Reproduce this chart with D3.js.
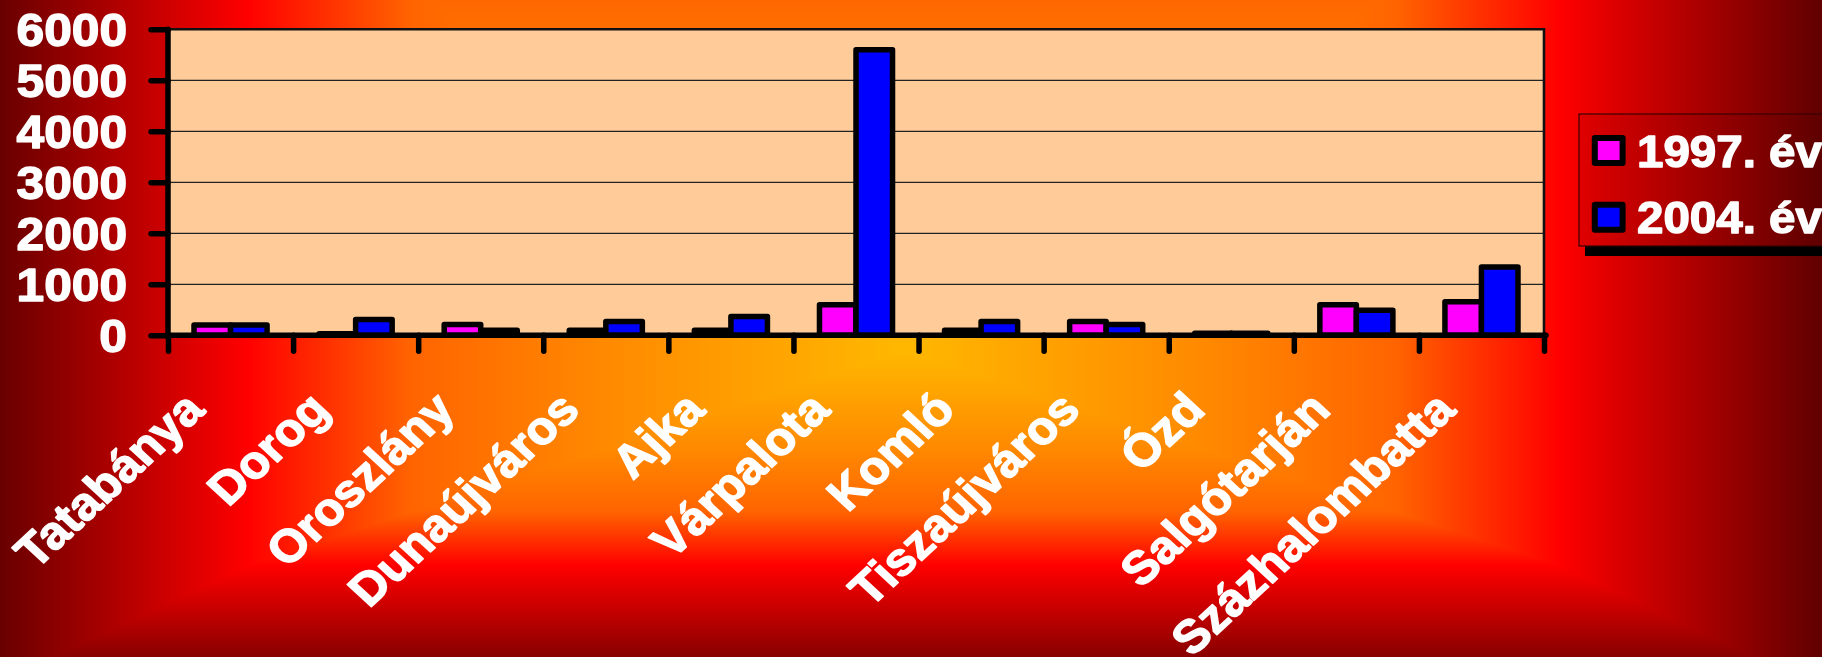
<!DOCTYPE html>
<html><head><meta charset="utf-8">
<script src="https://cdn.jsdelivr.net/npm/d3@7"></script>
<style>
html,body{margin:0;padding:0;overflow:hidden;background:#600000;}
#bg{position:absolute;left:0;top:0;}
#chart{position:absolute;left:0;top:0;}
text{font-family:"Liberation Sans",Arial,sans-serif;font-weight:bold;fill:#fff;stroke:#fff;stroke-width:1.4px;stroke-linejoin:round;}
</style></head><body>
<canvas id="bg" width="1822" height="657"></canvas>
<svg id="chart" width="1822" height="657"></svg>
<script>
const categories = ["Tatabánya","Dorog","Oroszlány","Dunaújváros","Ajka","Várpalota","Komló","Tiszaújváros","Ózd","Salgótarján","Százhalombatta"];
const values1997 = [200, 30, 210, 100, 100, 600, 100, 270, 40, 600, 660];
const values2004 = [200, 310, 100, 270, 370, 5600, 270, 210, 40, 490, 1340];
const seriesNames = ["1997. év", "2004. év"];
const seriesColors = ["#FF00FF", "#0000FF"];
const yTicks = [0, 1000, 2000, 3000, 4000, 5000, 6000];

// ---- background (rectangular "from center" gradient) ----
(function(){
  const cv = document.getElementById("bg"), ctx = cv.getContext("2d");
  const W = 1822, H = 657, img = ctx.createImageData(W, H);
  const cx = 903, cy = 350, ax = 656, ayUp = 482, ayDown = 215;
  const stops = [[0,[255,184,0]],[0.45,[255,138,0]],[0.75,[255,100,0]],[1.0,[255,0,0]],[1.4,[96,0,0]]];
  function col(t){
    if (t <= 0) return stops[0][1];
    for (let i=1;i<stops.length;i++){
      if (t <= stops[i][0]){
        const a = stops[i-1], b = stops[i], f = (t-a[0])/(b[0]-a[0]);
        return [a[1][0]+(b[1][0]-a[1][0])*f, a[1][1]+(b[1][1]-a[1][1])*f, a[1][2]+(b[1][2]-a[1][2])*f];
      }
    }
    return stops[stops.length-1][1];
  }
  for (let y=0;y<H;y++){
    let ty = (y<cy) ? (cy-y)/ayUp : (y-cy)/ayDown;
    if (y>=cy && ty>1) ty = 1 + (ty-1)*0.7;
    for (let x=0;x<W;x++){
      const tx = Math.abs(x-cx)/ax;
      const c = col(Math.max(tx,ty));
      const k = (y*W+x)*4;
      img.data[k]=c[0]; img.data[k+1]=c[1]; img.data[k+2]=c[2]; img.data[k+3]=255;
    }
  }
  ctx.putImageData(img,0,0);
})();

// ---- chart ----
const svg = d3.select("#chart");
const L = 168, R = 1544, T = 29.3, B = 335.3;
const x = d3.scaleBand().domain(categories).range([L, R]).padding(0);
const xi = d3.scaleLinear().domain([0, categories.length]).range([L, R]);
const y = d3.scaleLinear().domain([0, 6000]).range([B, T]);

svg.append("rect").attr("x", L).attr("y", T).attr("width", R-L).attr("height", B-T).attr("fill", "#FFCC99");

svg.append("g").selectAll("line").data(yTicks.filter(d=>d>0)).join("line")
  .attr("x1", L).attr("x2", R).attr("y1", d=>y(d)).attr("y2", d=>y(d))
  .attr("stroke", "#222").attr("stroke-width", 1.3);

// top and right borders
svg.append("path").attr("d", `M${L},${T}H${R}V${B}`).attr("fill","none").attr("stroke","#111").attr("stroke-width",2.6);

// bars
const bw = x.bandwidth()*0.292;
const series = [values1997, values2004];
series.forEach((vals, si) => {
  svg.append("g").selectAll("rect").data(vals).join("rect")
    .attr("x", (d,i) => x(categories[i]) + x.bandwidth()/2 - bw + si*bw)
    .attr("y", d => y(d))
    .attr("width", bw)
    .attr("height", d => y(0) - y(d))
    .attr("fill", seriesColors[si])
    .attr("stroke", "#000").attr("stroke-width", 5.5).attr("stroke-linejoin", "round");
});

// y axis
const yAxis = svg.append("g").attr("transform", `translate(${L},0)`)
  .call(d3.axisLeft(y).tickValues(yTicks).tickSize(17).tickSizeOuter(0).tickFormat(""));
yAxis.selectAll("path,line").attr("stroke","#000").attr("stroke-width",5.5).attr("stroke-linecap","round");
yAxis.select(".domain").attr("d", `M0,${B+2}V${T}`);

// x axis
const xAxis = svg.append("g").attr("transform", `translate(0,${B})`)
  .call(d3.axisBottom(xi).tickValues(d3.range(categories.length+1)).tickSize(16).tickSizeOuter(0).tickFormat(""));
xAxis.selectAll("path,line").attr("stroke","#000").attr("stroke-width",5.5).attr("stroke-linecap","round");
xAxis.select(".domain").attr("d", `M${L},0H${R+2}`);

// y labels
svg.append("g").selectAll("text").data(yTicks).join("text")
  .attr("transform", d => `translate(127,${y(d)}) scale(1.08,1)`)
  .attr("dy", "0.36em")
  .attr("text-anchor", "end")
  .style("font-size", "46px")
  .text(d => d);

// x labels
svg.append("g").selectAll("text").data(categories).join("text")
  .attr("transform", d => `translate(${x(d)+x.bandwidth()/2-24},412) scale(1.08,1) rotate(-45)`)
  .attr("text-anchor", "end")
  .style("font-size", "46px")
  .text(d => d);

// legend
const defs = svg.append("defs");
const lg = defs.append("linearGradient").attr("id","legGrad").attr("x1","0").attr("x2","1").attr("y1","0").attr("y2","0");
lg.append("stop").attr("offset","0").attr("stop-color","#E00000");
lg.append("stop").attr("offset","1").attr("stop-color","#5A0000");
const leg = svg.append("g");
leg.append("rect").attr("x",1585).attr("y",124).attr("width",250).attr("height",132).attr("fill","#000");
leg.append("rect").attr("x",1579).attr("y",114).attr("width",250).attr("height",132).attr("fill","url(#legGrad)").attr("stroke","#3a0000").attr("stroke-width",1.2);
const li = leg.selectAll("g.item").data(seriesNames).join("g").attr("class","item");
li.append("rect").attr("x",1594.8).attr("y",(d,i)=>138+i*66.7).attr("width",27.8).attr("height",25)
  .attr("fill",(d,i)=>seriesColors[i]).attr("stroke","#000").attr("stroke-width",6).attr("stroke-linejoin","round");
li.append("text").attr("transform",(d,i)=>`translate(1637,${167+i*66}) scale(1.08,1)`)
  .style("font-size","44px").text(d=>d);
</script>
</body></html>
